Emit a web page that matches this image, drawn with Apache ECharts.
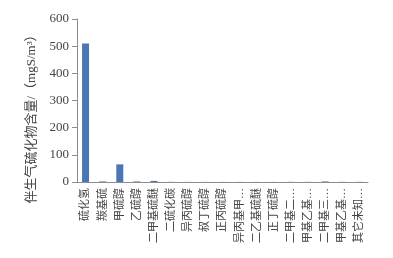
<!DOCTYPE html>
<html>
<head>
<meta charset="utf-8">
<script src="https://cdn.jsdelivr.net/npm/echarts@6/dist/echarts.min.js"></script>
<style>
  html, body { margin: 0; padding: 0; background: #fff; }
  #main { width: 393px; height: 258px; }
</style>
</head>
<body>
<div id="main"></div>
<script>
var categories = ['硫化氢', '羰基硫', '甲硫醇', '乙硫醇', '二甲基硫醚', '二硫化碳', '异丙硫醇', '叔丁硫醇',
    '正丙硫醇', '异丙基甲…', '二乙基硫醚', '正丁硫醇', '二甲基二…', '甲基乙基…', '二甲基三…', '甲基乙基…', '其它未知…'];
var values = [510, 2, 65, 2, 4, 0.5, 0.3, 0.3, 0.3, 0.3, 0.3, 0.3, 0.5, 0.5, 2, 0.5, 0.5];
var yTicks = { min: 0, max: 600, interval: 100 };
var yTitle = '伴生气硫化物含量/（mgS/m³）';

var fontFam = "'Liberation Serif', 'Noto Sans CJK SC', serif";
var axisGray = '#8c8c8c';

var myChart = echarts.init(document.getElementById('main'));
var option = {
    backgroundColor: '#fff',
    animation: false,
    grid: { left: 77, top: 19, right: 25, bottom: 76 },
    graphic: [{
        type: 'text',
        x: 32, y: 116,
        rotation: Math.PI / 2,
        style: {
            text: yTitle,
            font: '13px ' + fontFam,
            fill: '#444',
            align: 'center',
            verticalAlign: 'middle'
        }
    }],
    xAxis: {
        type: 'category',
        data: categories,
        axisLine: { lineStyle: { color: axisGray } },
        axisTick: { length: 4, lineStyle: { color: axisGray } },
        axisLabel: {
            interval: 0,
            rotate: 90,
            margin: 6,
            color: '#444',
            fontSize: 11,
            fontFamily: fontFam
        }
    },
    yAxis: {
        type: 'value',
        min: yTicks.min,
        max: yTicks.max,
        interval: yTicks.interval,
        splitLine: { show: false },
        axisLine: { show: true, lineStyle: { color: axisGray } },
        axisTick: { show: true, length: 5, lineStyle: { color: axisGray } },
        axisLabel: { color: '#444', fontSize: 13, fontFamily: fontFam, margin: 8 }
    },
    series: [{
        type: 'bar',
        data: values,
        barWidth: 7,
        itemStyle: { color: '#4a77b4' }
    }]
};
myChart.setOption(option);
</script>
</body>
</html>
